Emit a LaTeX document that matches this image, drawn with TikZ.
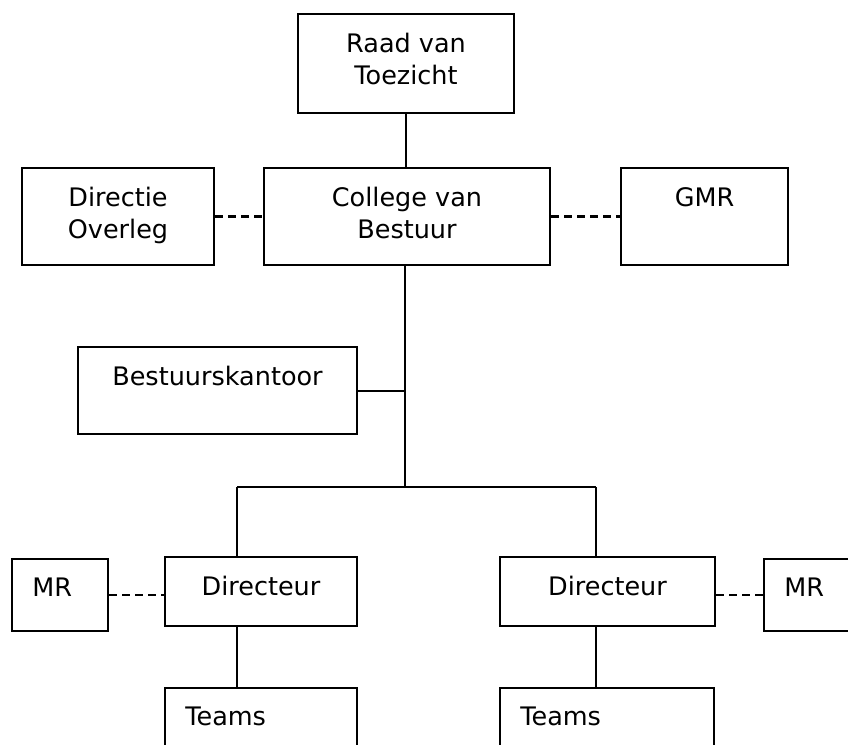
\documentclass[tikz,border=0pt]{standalone}
\usepackage{fontspec}
\setmainfont{DejaVu Sans}
\usepackage{tikz}
\usetikzlibrary{positioning,calc}
\tikzstyle{box}      = [draw, rectangle, line width=1.1pt, inner sep=0pt]
\tikzstyle{lbl}      = [inner sep=0pt, align=center, font=\fontsize{12.75}{16}\selectfont]
\tikzstyle{lbll}     = [lbl, align=left]
\tikzstyle{link}     = [line width=1pt]
\tikzstyle{dashlink} = [line width=1.1pt, dash pattern=on 4pt off 2.5pt]

\begin{document}
\begin{tikzpicture}[x=0.5pt, y=-0.5pt]
        \fill[white] (0,0) rectangle (848,745);
        \clip (0,0) rectangle (848,745);

        % top of the tree
        \node[box, minimum width=108pt, minimum height=49.5pt] (rvt) at (406,63.5) {};
        \node[lbl, below=10pt of rvt.north] (rvtt) {Raad van\\Toezicht};
        \node[box, minimum width=143pt, minimum height=48.5pt] (cvb) at (407,216.5) {};
        \node[lbl, below=10pt of cvb.north] (cvbt) {College van\\Bestuur};
        \node[box, minimum width=96pt, minimum height=48.5pt] (dov) at (118,216.5) {};
        \node[lbl, below=10pt of dov.north] (dovt) {Directie\\Overleg};
        \node[box, minimum width=83.5pt, minimum height=48.5pt] (gmr) at (704.5,216.5) {};
        \node[lbl, below=10pt of gmr.north] (gmrt) {GMR};
        \node[box, minimum width=139.5pt, minimum height=43.5pt] (bk) at (217.5,390.5) {};
        \node[lbl, below=10pt of bk.north] (bkt) {Bestuurskantoor};

        % schools
        \node[box, minimum width=96pt, minimum height=34.5pt] (dirl) at (261,591.5) {};
        \node[lbl, below=10pt of dirl.north] (dirlt) {Directeur};
        \node[box, minimum width=107.5pt, minimum height=34.5pt] (dirr) at (607.5,591.5) {};
        \node[lbl, below=10pt of dirr.north] (dirrt) {Directeur};
        \node[box, minimum width=48pt, minimum height=36pt] (mrl) at (60,595) {};
        \node[lbll, below right=10pt and 10.5pt of mrl.north west] (mrlt) {MR};
        \node[box, minimum width=48pt, minimum height=36pt] (mrr) at (812,595) {};
        \node[lbll, below right=10pt and 10.5pt of mrr.north west] (mrrt) {MR};
        \node[box, minimum width=96pt, minimum height=36pt] (tml) at (261,724) {};
        \node[lbll, below right=10pt and 10.5pt of tml.north west] (tmlt) {Teams};
        \node[box, minimum width=107pt, minimum height=36pt] (tmr) at (607,724) {};
        \node[lbll, below right=10pt and 10.5pt of tmr.north west] (tmrt) {Teams};

        \coordinate (split) at (405,487);
        \coordinate (bl) at (237,487);
        \coordinate (br) at (596,487);

        \draw[link] (rvt.south) -- (rvt.south |- cvb.north);
        \draw[dashlink] (dov.east) -- (cvb.west);
        \draw[dashlink] (cvb.east) -- (gmr.west);
        \draw[link] (cvb.south -| split) -- (split);
        \draw[link] (bk.east) -- (bk.east -| split);
        \draw[link] (bl) -- (br);
        \draw[link] (bl) -- (bl |- dirl.north);
        \draw[link] (br) -- (br |- dirr.north);
        \draw[link] (dirl.south -| bl) -- (bl |- tml.north);
        \draw[link] (dirr.south -| br) -- (br |- tmr.north);
        \draw[dashlink] (mrl.east) -- (mrl.east -| dirl.west);
        \draw[dashlink] (mrr.west) -- (mrr.west -| dirr.east);
\end{tikzpicture}
\end{document}
